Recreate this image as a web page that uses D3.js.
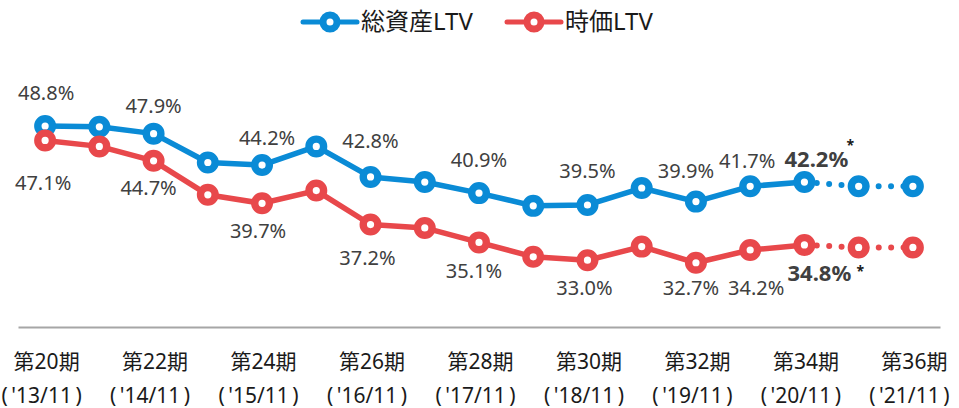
<!DOCTYPE html>
<html>
<head>
<meta charset="utf-8">
<script src="https://cdn.jsdelivr.net/npm/d3@7"></script>
<style>
    body { margin: 0; background: #fff; }
    text { font-family: "Noto Sans", "Noto Sans CJK JP", sans-serif; }
</style>
</head>
<body>
<div id="canvas"></div>
<script>
"use strict"

let svgWidth = 959
let svgHeight = 408

// chart data
let periods = [20, 21, 22, 23, 24, 25, 26, 27, 28, 29, 30, 31, 32, 33, 34, 35, 36]
let tickPeriods = [20, 22, 24, 26, 28, 30, 32, 34, 36]
let tickYears = ["'13/11", "'14/11", "'15/11", "'16/11", "'17/11", "'18/11", "'19/11", "'20/11", "'21/11"]
let totalAssetLTV = [48.8, 48.7, 47.9, 44.5, 44.2, 46.4, 42.8, 42.2, 40.9, 39.4, 39.5, 41.5, 39.9, 41.7, 42.2, 41.7, 41.7]
let marketLTV = [47.1, 46.4, 44.7, 40.7, 39.7, 41.2, 37.2, 36.8, 35.1, 33.4, 33.0, 34.6, 32.7, 34.2, 34.8, 34.5, 34.5]
let seriesNames = ["総資産LTV", "時価LTV"]
let lastActual = 14            // index of 第34期, after it the values are forecasts
let labeledPoints = [0, 2, 4, 6, 8, 10, 12, 13, 14]

// label offsets (dx, dy from the point) for each labeled point
let blueLabelOffsets = [[1, -26], [0, -21], [5, -20], [0, -29], [0, -26], [0, -27], [-10, -24], [-3, -18], [12, -15]]
let redLabelOffsets = [[-2, 50], [-5, 34], [-4, 35], [-3, 40], [-5, 36], [-3, 35], [-5, 32], [6, 45], [15, 36]]
// asterisk offsets from the last actual point
let starOffsets = [[46, -32], [56, 31]]

let colors = ["#0a8bd6", "#e8484b"]

let svg = d3.select("#canvas")
    .append("svg")
    .attr("width", svgWidth)
    .attr("height", svgHeight)

let xScale = d3.scalePoint()
    .domain(periods)
    .range([18, 940])
    .padding(0.5)

let yScale = d3.scaleLinear()
    .domain([30, 50])
    .range([285.7, 115.8])

/* x axis with two-line tick labels */
let xAxis = svg.append("g")
    .attr("transform", "translate(0,327)")
    .call(d3.axisBottom(xScale).tickValues(tickPeriods).tickSize(0).tickSizeOuter(0))

xAxis.select(".domain")
    .attr("stroke", "#a6a6a6")
    .attr("stroke-width", 2)

xAxis.selectAll(".tick text")
    .attr("y", null)
    .attr("dy", null)
    .attr("fill", "#1a1a1a")
    .style("font-size", "21px")
    .text("")
    .each(function (d, i) {
        let t = d3.select(this)
        t.append("tspan").attr("x", 1).attr("y", 42).text("第" + d + "期")
        t.append("tspan").attr("x", -4).attr("y", 76).text("(\u2009" + tickYears[i] + "\u2009)")
    })

/* lines, markers and value labels */
function drawSeries(values, color, offsets, key) {
    let line = d3.line()
        .x(function (i) { return xScale(periods[i]) })
        .y(function (i) { return yScale(values[i]) })

    let actual = d3.range(0, lastActual + 1)
    let forecast = d3.range(lastActual, periods.length)

    svg.append("path")
        .attr("d", line(actual))
        .attr("fill", "none")
        .attr("stroke", color)
        .attr("stroke-width", 5.5)
        .attr("stroke-linejoin", "round")

    svg.append("path")
        .attr("d", line(forecast))
        .attr("fill", "none")
        .attr("stroke", color)
        .attr("stroke-width", 6)
        .attr("stroke-linecap", "round")
        .attr("stroke-dasharray", "0 12.4")

    svg.selectAll("circle." + key)
        .data(d3.range(periods.length))
        .join("circle")
        .classed(key, true)
        .attr("cx", function (i) { return xScale(periods[i]) })
        .attr("cy", function (i) { return yScale(values[i]) })
        .attr("r", 7.3)
        .attr("fill", "#fff")
        .attr("stroke", color)
        .attr("stroke-width", 7.4)

    svg.selectAll("text." + key)
        .data(labeledPoints)
        .join("text")
        .classed(key, true)
        .attr("x", function (i, k) { return xScale(periods[i]) + offsets[k][0] })
        .attr("y", function (i, k) { return yScale(values[i]) + offsets[k][1] })
        .attr("text-anchor", "middle")
        .attr("fill", "#404040")
        .style("font-size", function (i) { return i == lastActual ? "22px" : "20px" })
        .style("font-weight", function (i) { return i == lastActual ? "bold" : "normal" })
        .text(function (i) { return values[i].toFixed(1) + "%" })
}

drawSeries(totalAssetLTV, colors[0], blueLabelOffsets, "total")
drawSeries(marketLTV, colors[1], redLabelOffsets, "market")

/* asterisks after the bold labels */
;[totalAssetLTV, marketLTV].forEach(function (values, s) {
    svg.append("text")
        .attr("x", xScale(periods[lastActual]) + starOffsets[s][0])
        .attr("y", yScale(values[lastActual]) + starOffsets[s][1])
        .attr("text-anchor", "middle")
        .attr("fill", "#1a1a1a")
        .style("font-size", "14px")
        .style("font-weight", "bold")
        .text("*")
})

/* legend */
let legendX = [303, 507]
seriesNames.forEach(function (name, s) {
    let g = svg.append("g").attr("transform", `translate(${legendX[s]},22)`)
    g.append("line")
        .attr("x1", 0).attr("x2", 54)
        .attr("stroke", colors[s])
        .attr("stroke-width", 5)
        .attr("stroke-linecap", "round")
    g.append("circle")
        .attr("cx", 27)
        .attr("r", 7)
        .attr("fill", "#fff")
        .attr("stroke", colors[s])
        .attr("stroke-width", 7)
    g.append("text")
        .attr("x", 58)
        .attr("y", 8)
        .attr("fill", "#1a1a1a")
        .style("font-size", "24px")
        .text(name)
})
</script>
</body>
</html>
